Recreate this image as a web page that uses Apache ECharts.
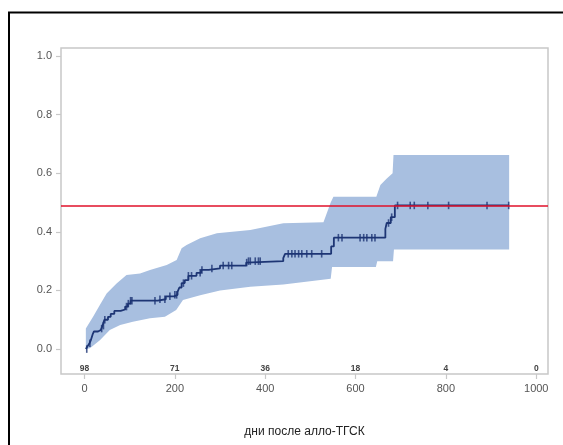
<!DOCTYPE html>
<html>
<head>
<meta charset="utf-8">
<script src="https://cdn.jsdelivr.net/npm/echarts@6/dist/echarts.min.js"></script>
<style>
html,body{margin:0;padding:0;background:#fff;}
#c{width:563px;height:445px;}
</style>
</head>
<body>
<div id="c"></div>
<script>
// Kaplan-Meier style cumulative incidence (step curve)
var curveDays = [3, 7, 11, 14, 18, 21, 30, 36, 40, 44, 52, 58, 66, 80, 90, 96, 102, 162, 180, 198, 206, 210, 215, 222, 230, 248, 258, 275, 300, 358, 362, 440, 444, 546, 552, 666, 669, 678, 687, 940];
var curveVals = [0, 0.01, 0.02, 0.03, 0.05, 0.06, 0.065, 0.07, 0.08, 0.10, 0.11, 0.12, 0.13, 0.135, 0.145, 0.155, 0.165, 0.17, 0.18, 0.185, 0.195, 0.21, 0.225, 0.235, 0.25, 0.26, 0.27, 0.275, 0.285, 0.295, 0.30, 0.31, 0.325, 0.35, 0.38, 0.41, 0.43, 0.45, 0.49, 0.49];

// Confidence band
var upperDays = [3, 19, 34, 49, 71, 93, 123, 145, 182, 204, 215, 226, 256, 293, 367, 440, 529, 545, 551, 646, 655, 668, 682, 684, 940];
var upperVals = [0.07, 0.11, 0.15, 0.19, 0.224, 0.253, 0.258, 0.27, 0.287, 0.304, 0.344, 0.355, 0.378, 0.395, 0.406, 0.429, 0.433, 0.50, 0.52, 0.52, 0.56, 0.58, 0.60, 0.662, 0.662];
var lowerDays = [3, 12, 34, 56, 79, 107, 145, 178, 203, 218, 256, 300, 367, 440, 545, 548, 645, 648, 683, 685, 940];
var lowerVals = [0, 0.003, 0.03, 0.065, 0.082, 0.093, 0.105, 0.11, 0.133, 0.167, 0.184, 0.20, 0.213, 0.22, 0.24, 0.28, 0.28, 0.30, 0.30, 0.34, 0.34];

// Censoring marks (days)
var censorDays = [5, 12, 38, 42, 45, 93, 97, 102, 105, 156, 167, 178, 189, 200, 204, 219, 230, 237, 256, 260, 282, 307, 319, 326, 359, 363, 367, 378, 385, 389, 451, 459, 466, 474, 481, 492, 503, 525, 562, 570, 610, 618, 625, 636, 643, 673, 680, 693, 721, 730, 760, 806, 891, 939];

// Numbers at risk
var riskDays = [0, 200, 400, 600, 800, 1000];
var riskCounts = ['98', '71', '36', '18', '4', '0'];

// Axis ticks
var xTicks = [0, 200, 400, 600, 800, 1000];
var yTicks = [0, 0.2, 0.4, 0.6, 0.8, 1.0];
var refLevel = 0.49;
var xTitle = 'дни после алло-ТГСК';

function stepValue(d) {
  var v = curveVals[0];
  for (var i = 0; i < curveDays.length; i++) {
    if (curveDays[i] <= d) v = curveVals[i];
  }
  return v;
}

var curveData = curveDays.map(function (d, i) { return [d, curveVals[i]]; });
var censorData = censorDays.map(function (d) { return [d, stepValue(d)]; });
var riskData = riskDays.map(function (d, i) { return [d, riskCounts[i]]; });

var chart = echarts.init(document.getElementById('c'), null, {renderer: 'canvas'});
var gray = '#c8c8c8';
var labelColor = '#555';
var font = 'Liberation Sans, Arial, sans-serif';

chart.setOption({
  animation: false,
  backgroundColor: '#fff',
  grid: {left: 61, top: 48, right: 15, bottom: 71, show: true, borderColor: gray, borderWidth: 1.5, backgroundColor: 'transparent'},
  xAxis: {
    type: 'value', min: -52, max: 1026,
    axisLine: {show: false, onZero: false},
    splitLine: {show: false},
    axisTick: {show: true, length: 5, lineStyle: {color: gray, width: 1.2}, customValues: xTicks},
    axisLabel: {customValues: xTicks, color: labelColor, fontSize: 11, fontFamily: font, margin: 9,
      formatter: function (v) { return String(v); }},
    name: xTitle, nameLocation: 'middle', nameGap: 52,
    nameTextStyle: {color: '#222', fontSize: 12, fontFamily: font}
  },
  yAxis: {
    type: 'value', min: -0.085, max: 1.027,
    axisLine: {show: false, onZero: false},
    splitLine: {show: false},
    axisTick: {show: true, length: 5, lineStyle: {color: gray, width: 1.2}, customValues: yTicks},
    axisLabel: {customValues: yTicks, color: labelColor, fontSize: 11, fontFamily: font, margin: 9,
      formatter: function (v) { return v.toFixed(1); }}
  },
  series: [
    {
      type: 'custom', z: 1, silent: true,
      data: [0],
      renderItem: function (params, api) {
        var pts = [];
        for (var i = 0; i < upperDays.length; i++) pts.push(api.coord([upperDays[i], upperVals[i]]));
        for (var j = lowerDays.length - 1; j >= 0; j--) pts.push(api.coord([lowerDays[j], lowerVals[j]]));
        return {type: 'polygon', shape: {points: pts}, style: {fill: '#a8bfe0', stroke: null}};
      }
    },
    {
      type: 'line', z: 3, step: 'end', data: curveData, symbol: 'none',
      lineStyle: {color: '#1d3574', width: 1.8},
      markLine: {
        silent: true, symbol: ['none', 'none'], animation: false,
        label: {show: false},
        lineStyle: {color: '#e0102a', width: 1.5, type: 'solid', opacity: 1},
        emphasis: {disabled: true},
        data: [{yAxis: refLevel}]
      }
    },
    {
      type: 'scatter', z: 4, data: censorData, symbol: 'rect', symbolSize: [1.6, 7.5],
      itemStyle: {color: '#1d3574'}
    },
    {
      type: 'custom', z: 5, silent: true, data: riskData,
      renderItem: function (params, api) {
        var p = api.coord([api.value(0), -0.068]);
        return {type: 'text', x: p[0], y: p[1],
          style: {text: riskCounts[params.dataIndex], fill: '#444', font: 'bold 8.5px ' + font, align: 'center', verticalAlign: 'middle'}};
      }
    }
  ],
  graphic: [
    {type: 'rect', shape: {x: 9, y: 12.5, width: 600, height: 500}, style: {fill: null, stroke: '#000', lineWidth: 2}, z: 100}
  ]
});
</script>
</body>
</html>
